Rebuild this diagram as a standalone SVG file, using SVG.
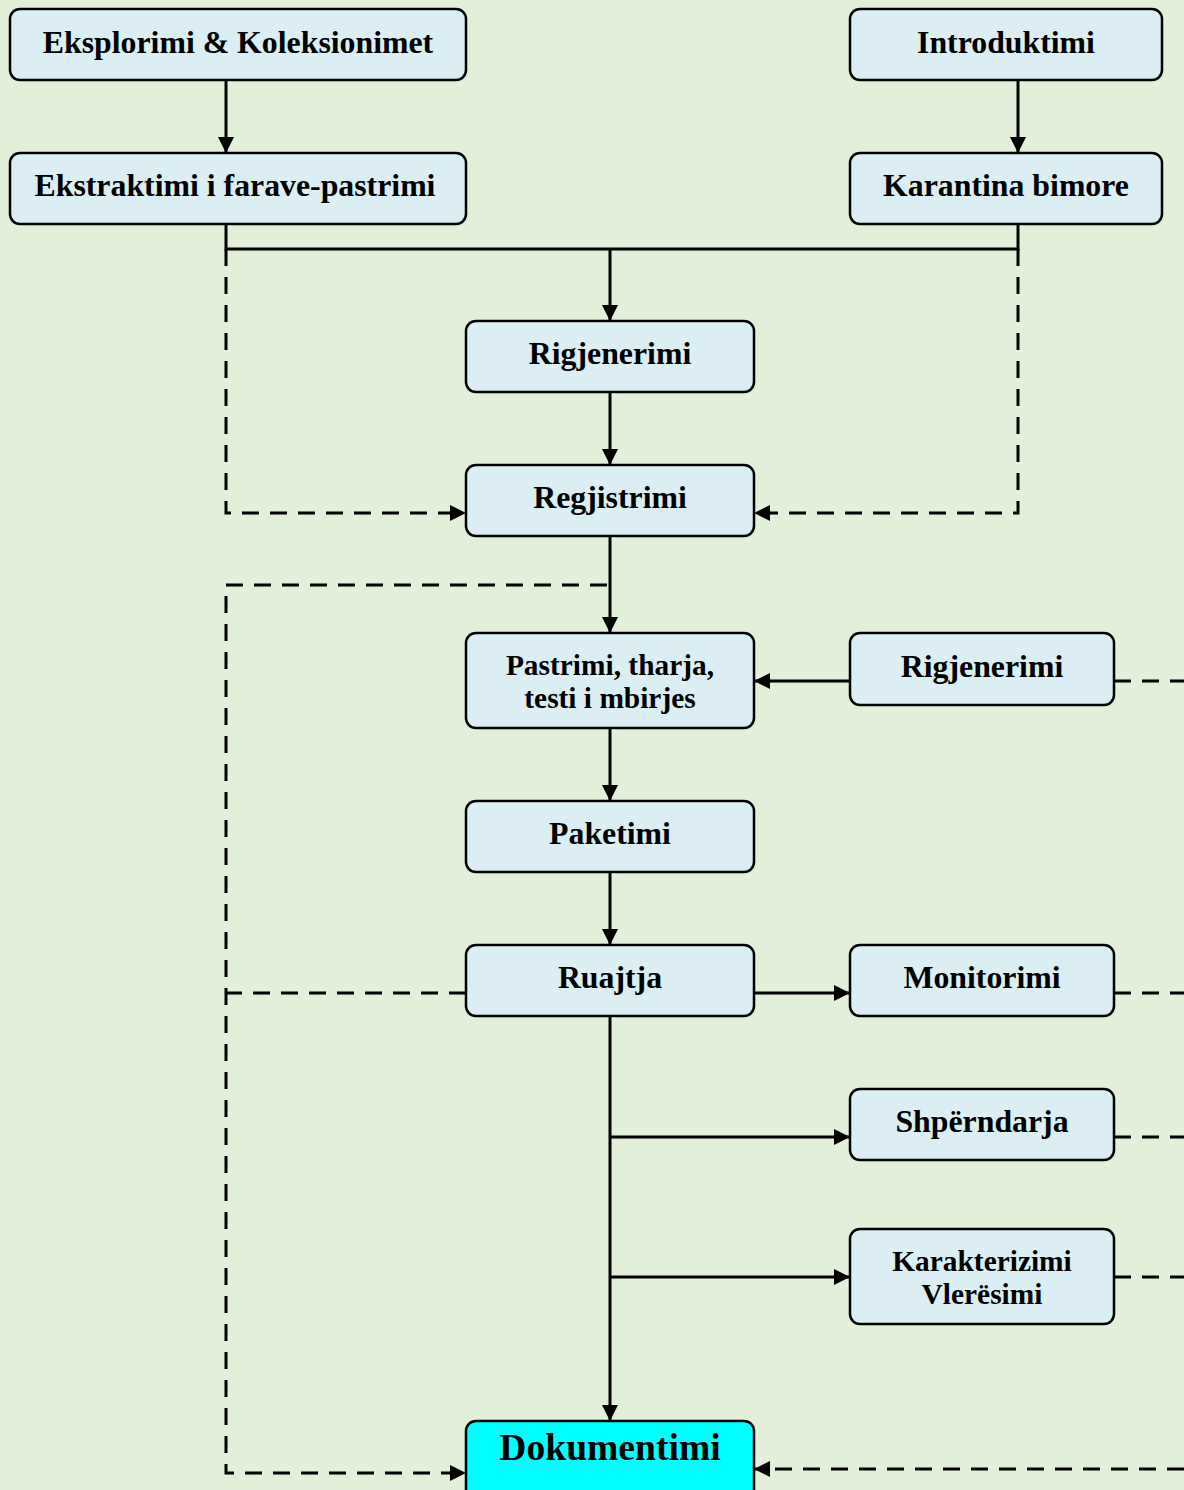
<svg xmlns="http://www.w3.org/2000/svg" width="1184" height="1490" viewBox="0 0 1184 1490">
<defs>
<marker id="ah" viewBox="0 0 16 16" refX="16" refY="8" markerWidth="16" markerHeight="16" markerUnits="userSpaceOnUse" orient="auto">
<path d="M0,0 L16,8 L0,16 Z" fill="#000"/>
</marker>
<style>
.box{fill:#DAEEF3;stroke:#000;stroke-width:2.5}
.doc{fill:#00FFFF;stroke:#000;stroke-width:2.5}
.t{font-family:"Liberation Serif","Times New Roman",serif;font-weight:bold;font-size:31.8px;fill:#000;text-anchor:middle}
.t2{font-family:"Liberation Serif","Times New Roman",serif;font-weight:bold;font-size:29.4px;fill:#000;text-anchor:middle}
.td{font-family:"Liberation Serif","Times New Roman",serif;font-weight:bold;font-size:37.6px;fill:#000;text-anchor:middle}
.s{fill:none;stroke:#000;stroke-width:3}
.d{fill:none;stroke:#000;stroke-width:3;stroke-dasharray:17 11}
</style>
</defs>
<rect width="1184" height="1490" fill="#E2EFD9"/>
<g id="connectors">
<line class="s" x1="226" y1="80" x2="226" y2="153" marker-end="url(#ah)"/>
<line class="s" x1="1018" y1="80" x2="1018" y2="153" marker-end="url(#ah)"/>
<polyline class="s" points="226,224 226,249 1018,249 1018,224"/>
<line class="s" x1="610" y1="249" x2="610" y2="321" marker-end="url(#ah)"/>
<polyline class="d" points="226,249 226,513 466,513" marker-end="url(#ah)"/>
<polyline class="d" points="1018,249 1018,513 754,513" marker-end="url(#ah)"/>
<line class="s" x1="610" y1="392" x2="610" y2="465" marker-end="url(#ah)"/>
<line class="s" x1="610" y1="536" x2="610" y2="633" marker-end="url(#ah)"/>
<polyline class="d" points="607,585 226,585 226,1473 466,1473" marker-end="url(#ah)"/>
<line class="d" x1="466" y1="993" x2="226" y2="993"/>
<line class="s" x1="850" y1="681" x2="754" y2="681" marker-end="url(#ah)"/>
<line class="d" x1="1114" y1="681" x2="1184" y2="681"/>
<line class="s" x1="610" y1="728" x2="610" y2="801" marker-end="url(#ah)"/>
<line class="s" x1="610" y1="872" x2="610" y2="945" marker-end="url(#ah)"/>
<line class="s" x1="754" y1="993" x2="850" y2="993" marker-end="url(#ah)"/>
<line class="d" x1="1114" y1="993" x2="1184" y2="993"/>
<line class="s" x1="610" y1="1016" x2="610" y2="1421" marker-end="url(#ah)"/>
<line class="s" x1="610" y1="1137" x2="850" y2="1137" marker-end="url(#ah)"/>
<line class="d" x1="1114" y1="1137" x2="1184" y2="1137"/>
<line class="s" x1="610" y1="1277" x2="850" y2="1277" marker-end="url(#ah)"/>
<line class="d" x1="1114" y1="1277" x2="1184" y2="1277"/>
<line class="d" x1="1184" y1="1469" x2="754" y2="1469" marker-end="url(#ah)"/>
</g>
<g id="eksplorimi"><rect class="box" x="10" y="9" width="456" height="71" rx="10"/><text class="t" x="238" y="53">Eksplorimi &amp; Koleksionimet</text></g>
<g id="ekstraktimi"><rect class="box" x="10" y="153" width="456" height="71" rx="10"/><text class="t" x="235" y="196">Ekstraktimi i farave-pastrimi</text></g>
<g id="introduktimi"><rect class="box" x="850" y="9" width="312" height="71" rx="10"/><text class="t" x="1006" y="53">Introduktimi</text></g>
<g id="karantina"><rect class="box" x="850" y="153" width="312" height="71" rx="10"/><text class="t" x="1006" y="196">Karantina bimore</text></g>
<g id="rigjenerimi1"><rect class="box" x="466" y="321" width="288" height="71" rx="10"/><text class="t" x="610" y="364">Rigjenerimi</text></g>
<g id="regjistrimi"><rect class="box" x="466" y="465" width="288" height="71" rx="10"/><text class="t" x="610" y="508">Regjistrimi</text></g>
<g id="pastrimi"><rect class="box" x="466" y="633" width="288" height="95" rx="10"/><text class="t2" x="610" y="675">Pastrimi, tharja,</text><text class="t2" x="610" y="708">testi i mbirjes</text></g>
<g id="rigjenerimi2"><rect class="box" x="850" y="633" width="264" height="72" rx="10"/><text class="t" x="982" y="677">Rigjenerimi</text></g>
<g id="paketimi"><rect class="box" x="466" y="801" width="288" height="71" rx="10"/><text class="t" x="610" y="844">Paketimi</text></g>
<g id="ruajtja"><rect class="box" x="466" y="945" width="288" height="71" rx="10"/><text class="t" x="610" y="988">Ruajtja</text></g>
<g id="monitorimi"><rect class="box" x="850" y="945" width="264" height="71" rx="10"/><text class="t" x="982" y="988">Monitorimi</text></g>
<g id="shperndarja"><rect class="box" x="850" y="1089" width="264" height="71" rx="10"/><text class="t" x="982" y="1132">Shpërndarja</text></g>
<g id="karakterizimi"><rect class="box" x="850" y="1229" width="264" height="95" rx="10"/><text class="t2" x="982" y="1271">Karakterizimi</text><text class="t2" x="982" y="1304">Vlerësimi</text></g>
<g id="dokumentimi"><rect class="doc" x="466" y="1421" width="288" height="80" rx="10"/><text class="td" x="610" y="1460">Dokumentimi</text></g>
</svg>
